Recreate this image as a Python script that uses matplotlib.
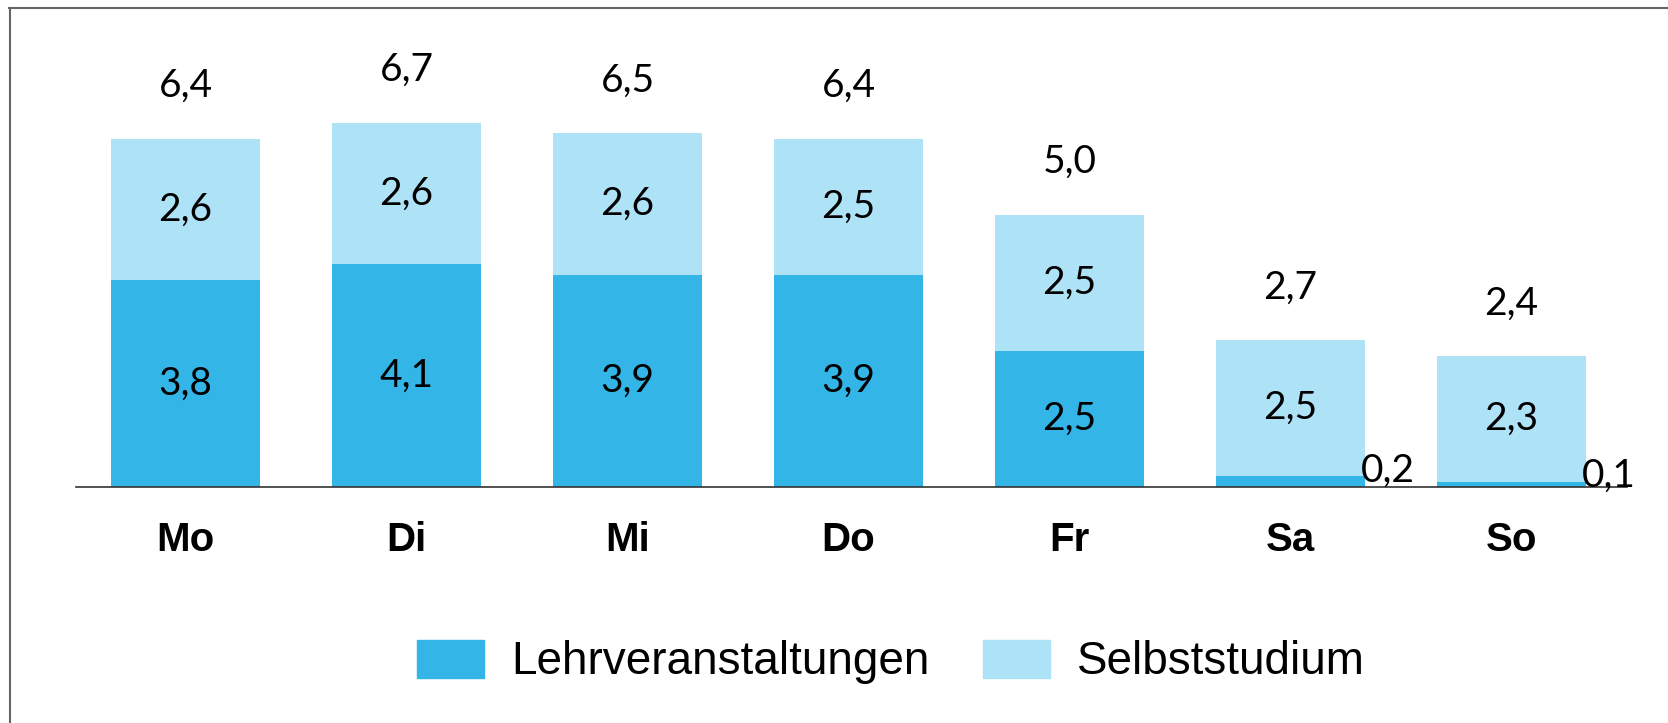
import matplotlib
matplotlib.use("Agg")
import matplotlib.pyplot as plt
from matplotlib.lines import Line2D
from matplotlib.patches import Patch

# data
days = ["Mo", "Di", "Mi", "Do", "Fr", "Sa", "So"]
lehr = [3.8, 4.1, 3.9, 3.9, 2.5, 0.2, 0.1]
selbst = [2.6, 2.6, 2.6, 2.5, 2.5, 2.5, 2.3]
totals = [6.4, 6.7, 6.5, 6.4, 5.0, 2.7, 2.4]

dark = "#33B5E8"
light = "#AEE2F6"

def de(v):
    return f"{v:.1f}".replace(".", ",")

W, H = 1668, 723
fig = plt.figure(figsize=(W / 100, H / 100), dpi=100)
ax = fig.add_axes([0, 0, 1, 1])
ax.set_axis_off()

# pixel layout -> data limits
x0, step, base, ppu = 185.5, 221.0, 487.0, 54.4
ax.set_xlim(-x0 / step, (W - x0) / step)
ax.set_ylim(-(H - base) / ppu, base / ppu)

xs = list(range(len(days)))
bw = 149 / step
ax.bar(xs, lehr, width=bw, color=dark, zorder=2)
ax.bar(xs, selbst, width=bw, bottom=lehr, color=light, zorder=2)
ax.axhline(0, xmin=76 / W, xmax=1627 / W, color="#333333", lw=1.2, zorder=3)

lab_font = dict(family=["Lato", "DejaVu Sans"], fontsize=28, color="black")

for i in xs:
    # segment labels
    if lehr[i] >= 1:
        ax.text(i, lehr[i] / 2, de(lehr[i]), ha="center", va="center", **lab_font)
    else:
        ax.annotate(de(lehr[i]), (i + bw / 2, lehr[i]), xytext=(-3, 4),
                    textcoords="offset points", ha="left", va="center", **lab_font)
    ax.text(i, lehr[i] + selbst[i] / 2, de(selbst[i]), ha="center", va="center", **lab_font)
    # totals above
    ax.annotate(de(totals[i]), (i, lehr[i] + selbst[i]), xytext=(0, 38),
                textcoords="offset points", ha="center", va="center", **lab_font)
    # day labels
    ax.text(i, -53 / ppu, days[i], ha="center", va="center", fontsize=29,
            fontweight="bold", family=["Liberation Sans", "DejaVu Sans"])

# legend
handles = [Patch(color=dark, label="Lehrveranstaltungen"),
           Patch(color=light, label="Selbststudium")]
fig.legend(handles=handles, loc="center", bbox_to_anchor=(891 / W, 1 - 662 / H),
           ncol=2, frameon=False, handlelength=1.46, handleheight=0.9,
           handletextpad=0.6, columnspacing=1.15, borderpad=0, borderaxespad=0,
           prop=dict(family=["Liberation Sans", "DejaVu Sans"], size=33))

# outer frame (top and left)
fig.add_artist(Line2D([9 / W, 1], [1 - 7.5 / H, 1 - 7.5 / H], color="#666666", lw=1.5))
fig.add_artist(Line2D([9.5 / W, 9.5 / W], [0, 1 - 7.5 / H], color="#666666", lw=1.5))

fig.savefig("out.png", dpi=100)
